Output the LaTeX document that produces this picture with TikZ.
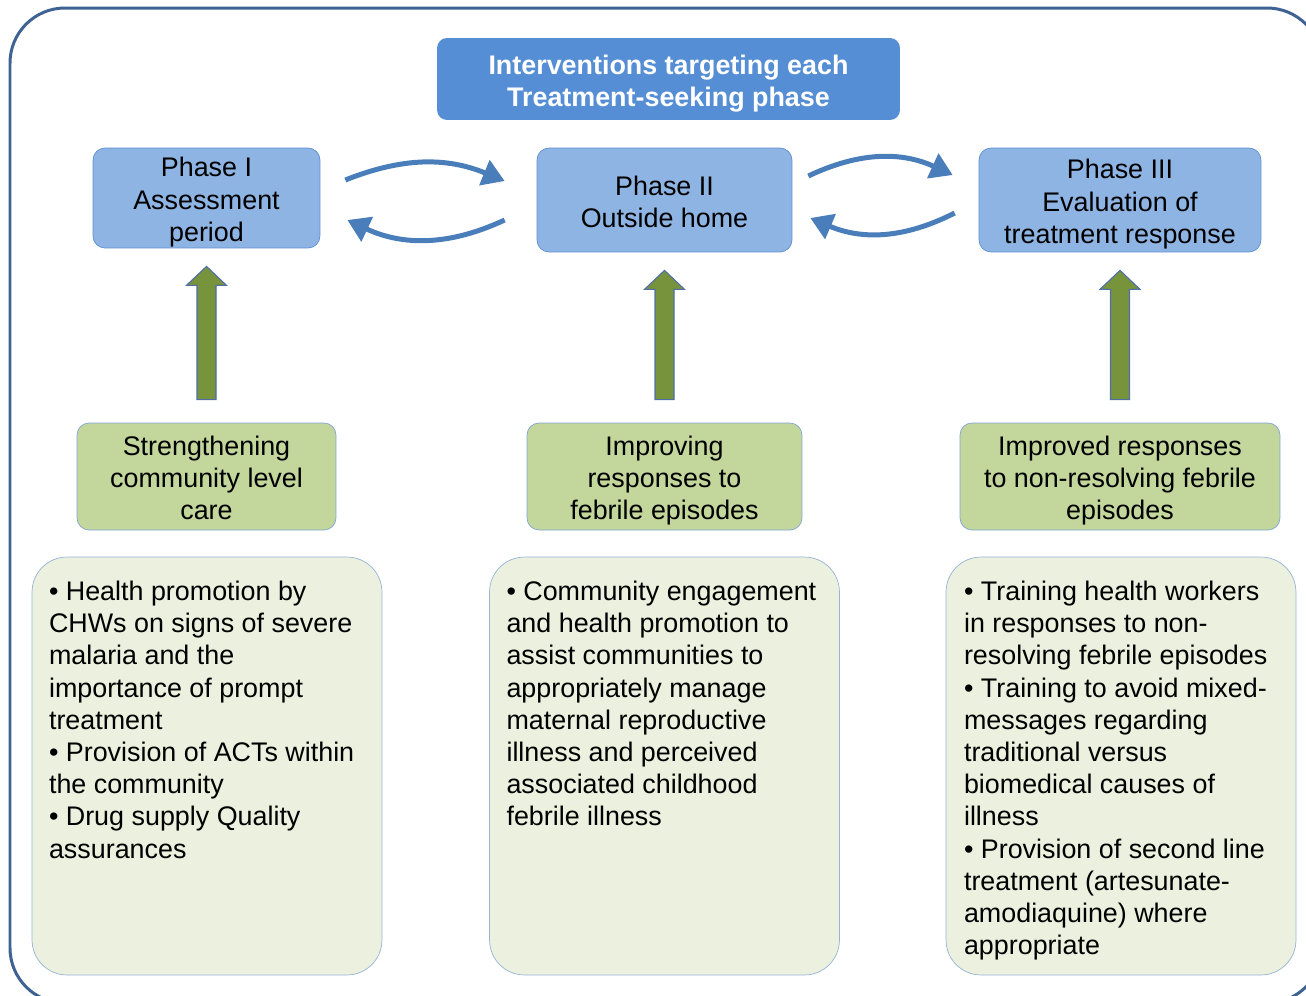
\documentclass[tikz,border=0pt]{standalone}
\usepackage{fontspec}
\setmainfont{Liberation Sans}
\usetikzlibrary{positioning, calc, arrows.meta}

\definecolor{framecol}{RGB}{62,98,146}
\definecolor{titlefill}{RGB}{85,142,213}
\definecolor{phasefill}{RGB}{142,180,227}
\definecolor{phaseline}{RGB}{91,143,208}
\definecolor{loopcol}{RGB}{74,126,187}
\definecolor{upfill}{RGB}{119,147,60}
\definecolor{upline}{RGB}{79,110,170}
\definecolor{aimfill}{RGB}{195,214,155}
\definecolor{aimline}{RGB}{127,164,216}
\definecolor{listfill}{RGB}{235,241,222}
\definecolor{listline}{RGB}{149,179,215}

\newcommand{\fsz}{\fontsize{15.3pt}{18.33pt}\selectfont}
% same top line height for every box text
\newcommand{\topline}{\rule{0pt}{16.3pt}}

% green block arrow from an aim box up to its phase box
\newcommand{\greenup}[2]{%
  \path ($(#1.north)+(0,-23)$) coordinate (base) ($(#2.south)+(0,18)$) coordinate (tip);
  \draw[uparrow] ($(base)+(-9.5,0)$) -- ($(tip)+(-9.5,19)$) -- ($(tip)+(-20,19)$) -- (tip)
    -- ($(tip)+(20,19)$) -- ($(tip)+(9.5,19)$) -- ($(base)+(9.5,0)$) -- cycle;}

\begin{document}
\begin{tikzpicture}[x=0.02cm, y=-0.02cm,
    even lines/.style={execute at end node={\rule[-3.6pt]{0pt}{0pt}}},
    title/.style={fill=titlefill, rounded corners=0.2cm, text=white, font=\fsz\bfseries, align=center, inner sep=0pt, even lines, minimum width=9.26cm, minimum height=1.64cm},
    phase/.style={draw=phaseline, fill=phasefill, rounded corners=0.24cm, font=\fsz, align=center, inner sep=0pt, even lines, minimum height=2cm},
    aim/.style={draw=aimline, fill=aimfill, rounded corners=0.24cm, font=\fsz, align=center, inner sep=0pt, even lines, minimum height=2.14cm},
    listbox/.style={draw=listline, fill=listfill, rounded corners=0.7cm, minimum width=7cm, minimum height=8.36cm},
    listtext/.style={font=\fsz, align=left, inner sep=0pt, anchor=north west},
    looparrow/.style={draw=loopcol, line width=0.1cm, -{Triangle[length=12.5pt,width=15pt]}},
    uparrow/.style={fill=upfill, draw=upline, line width=0.6pt}]

    \useasboundingbox (0,0) rectangle (1306,995);
    \clip (0,0) rectangle (1306,995);

    % outer frame
    \draw[framecol, line width=0.06cm, rounded corners=1.1cm] (10,8) rectangle (1322,1003);

    \node[title] (head) at (668.5,79) {\topline Interventions targeting each\\Treatment-seeking phase};

    % phases
    \node[phase, minimum width=4.54cm] (p1) at (206.5,198) {\topline Phase I\\Assessment\\period};
    \node[phase, minimum width=5.1cm, minimum height=2.08cm] (p2) at (664.5,200) {\topline Phase II\\Outside home};
    \node[phase, minimum width=5.64cm, minimum height=2.08cm] (p3) at (1120,200) {\topline Phase III\\Evaluation of\\treatment response};

    % back and forth between phases
    \draw[looparrow] ($(p1.east)+(25,-18)$) to[bend left=22] ($(p2.west)+(-32,-19)$);
    \draw[looparrow] ($(p2.west)+(-32,20)$) to[bend left=25] ($(p1.east)+(27,22)$);
    \draw[looparrow] ($(p2.east)+(16,-24)$) to[bend left=25] ($(p3.west)+(-26,-25)$);
    \draw[looparrow] ($(p3.west)+(-24,13)$) to[bend left=25] ($(p2.east)+(18,18)$);

    % aims
    \node[aim, minimum width=5.18cm] (a1) at (206.5,476.5) {\topline Strengthening\\community level\\care};
    \node[aim, minimum width=5.5cm] (a2) at (664.5,476.5) {\topline Improving\\responses to\\febrile episodes};
    \node[aim, minimum width=6.4cm] (a3) at (1120,476.5) {\topline Improved responses\\to non-resolving febrile\\episodes};

    \greenup{a1}{p1}
    \greenup{a2}{p2}
    \greenup{a3}{p3}

    % interventions
    \node[listbox] (d1) at (207,766) {};
    \node[listbox] (d2) at (664.5,766) {};
    \node[listbox] (d3) at (1121,766) {};

    \node[listtext] (t1) at ($(d1.north west)+(17,24)$) {%
      • Health promotion by\\CHWs on signs of severe\\malaria and the\\importance of prompt\\treatment\\
      • Provision of ACTs within\\the community\\
      • Drug supply Quality\\assurances};
    \node[listtext] (t2) at ($(d2.north west)+(17,24)$) {%
      • Community engagement\\and health promotion to\\assist communities to\\appropriately manage\\maternal reproductive\\illness and perceived\\associated childhood\\febrile illness};
    \node[listtext] (t3) at ($(d3.north west)+(18,24)$) {%
      • Training health workers\\in responses to non-\\resolving febrile episodes\\
      • Training to avoid mixed-\\messages regarding\\traditional versus\\biomedical causes of\\illness\\
      • Provision of second line\\treatment (artesunate-\\amodiaquine) where\\appropriate};
\end{tikzpicture}
\end{document}
